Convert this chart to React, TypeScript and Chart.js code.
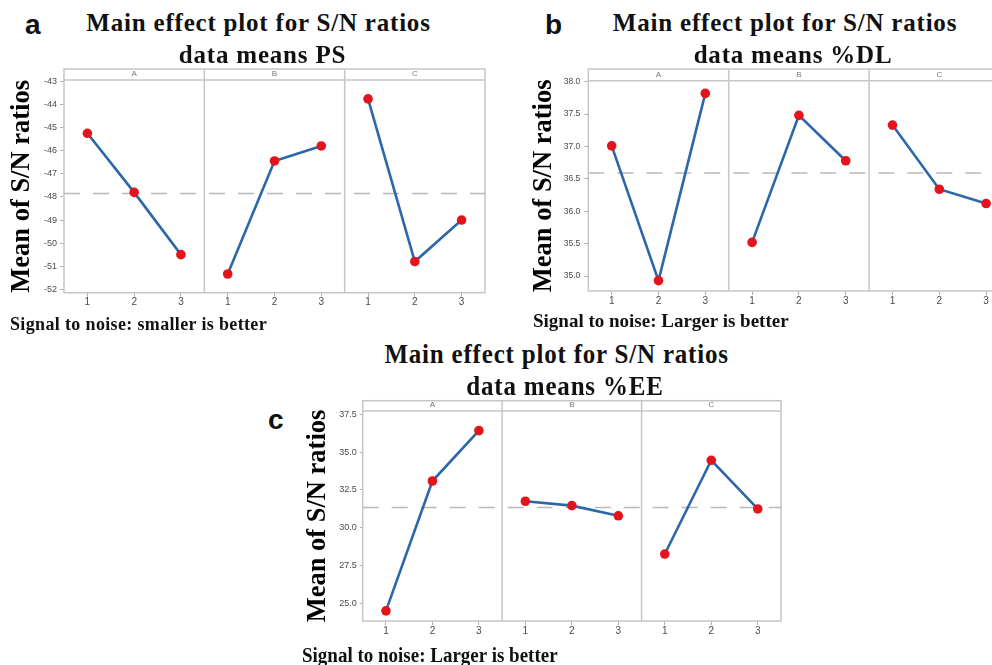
import React, { useEffect, useRef } from "react";
import { Chart, registerables } from "chart.js";

Chart.register(...registerables);

// ---------- data ----------
const FACTORS = ["A", "B", "C"];
const LEVELS = ["1", "2", "3"];
const Y_TITLE = "Mean of S/N ratios";

// (a) particle size, smaller is better
const PS_A = [-45.24, -47.8, -50.5];
const PS_B = [-51.34, -46.44, -45.79];
const PS_C = [-43.75, -50.8, -49.0];
const PS_TICKS = [-52, -51, -50, -49, -48, -47, -46, -45, -44, -43];

// (b) %DL, larger is better
const DL_A = [37.01, 34.93, 37.82];
const DL_B = [35.52, 37.48, 36.78];
const DL_C = [37.33, 36.34, 36.12];
const DL_TICKS = [35.0, 35.5, 36.0, 36.5, 37.0, 37.5, 38.0];

// (c) %EE, larger is better
const EE_A = [24.5, 33.09, 36.42];
const EE_B = [31.75, 31.46, 30.79];
const EE_C = [28.26, 34.46, 31.24];
const EE_TICKS = [25.0, 27.5, 30.0, 32.5, 35.0, 37.5];

type PanelCfg = {
  series: number[][];
  ticks: number[];
  decimals: number;
  yMin: number;
  yMax: number;
  left: number;
  top: number;
  width: number;
  height: number;
  padTop: number;
  padRight: number;
  yAxisWidth: number;
  xAxisHeight: number;
  stripHeight: number;
  titlePad: number;
  tickLen: number;
  tickPad: number;
  tickSize: number;
};

const LINE_COLOR = "#2c67aa";
const POINT_COLOR = "#e3141c";
const FRAME_COLOR = "#c6c6c6";

const framePlugin = {
  id: "minitabFrame",
  beforeDatasetsDraw(chart: any) {
    const { ctx, chartArea: ca, scales } = chart;
    const x = scales.x;
    const stripTop = scales.x2.top;
    ctx.save();
    ctx.strokeStyle = FRAME_COLOR;
    ctx.lineWidth = 1.5;
    ctx.strokeRect(ca.left, stripTop, ca.right - ca.left, ca.bottom - stripTop);
    ctx.beginPath();
    ctx.moveTo(ca.left, ca.top);
    ctx.lineTo(ca.right, ca.top);
    for (let k = 1; k < FACTORS.length; k++) {
      const px = x.getPixelForValue(k * LEVELS.length + 0.5);
      ctx.moveTo(px, stripTop);
      ctx.lineTo(px, ca.bottom);
    }
    ctx.stroke();
    ctx.restore();
  },
};

function PanelChart({ cfg }: { cfg: PanelCfg }) {
  const ref = useRef<HTMLCanvasElement | null>(null);
  useEffect(() => {
    if (!ref.current) return;
    const n = LEVELS.length;
    const xMax = FACTORS.length * n + 0.5;
    const all = cfg.series.flat();
    const mean = all.reduce((s, v) => s + v, 0) / all.length;
    const datasets: any[] = [
      {
        label: "mean",
        data: [
          { x: 0.5, y: mean },
          { x: xMax, y: mean },
        ],
        borderColor: "#b9b9b9",
        borderWidth: 1.5,
        borderDash: [16, 13],
        pointRadius: 0,
        order: 1,
      },
    ];
    cfg.series.forEach((vals, fi) => {
      datasets.push({
        label: FACTORS[fi],
        data: vals.map((v, li) => ({ x: fi * n + li + 1, y: v })),
        borderColor: LINE_COLOR,
        borderWidth: 2.6,
        pointRadius: 4.8,
        pointBackgroundColor: POINT_COLOR,
        pointBorderColor: POINT_COLOR,
        pointBorderWidth: 0,
        order: 0,
      });
    });
    const tickFont = { family: '"Liberation Sans", Arial, sans-serif', size: cfg.tickSize };
    const chart = new Chart(ref.current, {
      type: "line",
      data: { datasets },
      plugins: [framePlugin],
      options: {
        animation: false,
        responsive: false,
        devicePixelRatio: 1,
        layout: { padding: { top: cfg.padTop, right: cfg.padRight, left: 0, bottom: 0 } },
        plugins: { legend: { display: false }, tooltip: { enabled: false }, title: { display: false } },
        scales: {
          x: {
            type: "linear",
            min: 0.5,
            max: xMax,
            afterBuildTicks: (ax: any) => {
              const t: any[] = [];
              FACTORS.forEach((_, fi) => LEVELS.forEach((_l, li) => t.push({ value: fi * n + li + 1 })));
              ax.ticks = t;
            },
            afterFit: (ax: any) => {
              ax.height = cfg.xAxisHeight;
            },
            grid: { drawOnChartArea: false, drawTicks: true, tickLength: 4, tickColor: "#b0b0b0", color: "#b0b0b0" },
            border: { display: false },
            ticks: {
              autoSkip: false,
              maxRotation: 0,
              padding: 0,
              color: "#4a4a4a",
              font: { ...tickFont, size: 10 },
              callback: (v: any) => LEVELS[(Math.round(v) - 1) % n],
            },
          },
          x2: {
            type: "linear",
            position: "top",
            min: 0.5,
            max: xMax,
            afterBuildTicks: (ax: any) => {
              ax.ticks = FACTORS.map((_, fi) => ({ value: fi * n + (n + 1) / 2 }));
            },
            afterFit: (ax: any) => {
              ax.height = cfg.stripHeight;
            },
            grid: { display: false, drawTicks: false },
            border: { display: false },
            ticks: {
              autoSkip: false,
              maxRotation: 0,
              padding: 1,
              color: "#777",
              font: { ...tickFont, size: 8 },
              callback: (v: any) => FACTORS[Math.round((v - (n + 1) / 2) / n)],
            },
          },
          y: {
            type: "linear",
            min: cfg.yMin,
            max: cfg.yMax,
            afterBuildTicks: (ax: any) => {
              ax.ticks = cfg.ticks.map((v) => ({ value: v }));
            },
            afterFit: (ax: any) => {
              ax.width = cfg.yAxisWidth;
            },
            grid: { drawOnChartArea: false, drawTicks: true, tickLength: cfg.tickLen, tickColor: "#b0b0b0", color: "#b0b0b0" },
            border: { display: false },
            ticks: {
              padding: cfg.tickPad,
              color: "#4a4a4a",
              font: tickFont,
              callback: (v: any) => Number(v).toFixed(cfg.decimals),
            },
            title: {
              display: true,
              text: Y_TITLE,
              color: "#000",
              font: { family: '"Liberation Serif", "Times New Roman", serif', size: 26.5, weight: "bold", lineHeight: 1.2 },
              padding: { top: cfg.titlePad, bottom: 0 },
            },
          },
        },
      } as any,
    });
    return () => chart.destroy();
  }, [cfg]);
  return (
    <canvas
      ref={ref}
      width={cfg.width}
      height={cfg.height}
      style={{ position: "absolute", left: cfg.left, top: cfg.top, width: cfg.width, height: cfg.height }}
    />
  );
}

const PANEL_A: PanelCfg = {
  series: [PS_A, PS_B, PS_C],
  ticks: PS_TICKS,
  decimals: 0,
  yMin: -52.15,
  yMax: -42.93,
  left: 0,
  top: 60,
  width: 495,
  height: 255,
  padTop: 9,
  padRight: 10,
  yAxisWidth: 64,
  xAxisHeight: 22.3,
  stripHeight: 11,
  titlePad: 6.1,
  tickLen: 4,
  tickPad: 3,
  tickSize: 9,
};

const PANEL_B: PanelCfg = {
  series: [DL_A, DL_B, DL_C],
  ticks: DL_TICKS,
  decimals: 1,
  yMin: 34.77,
  yMax: 38.015,
  left: 510,
  top: 60,
  width: 510,
  height: 255,
  padTop: 9,
  padRight: 10.5,
  yAxisWidth: 78.3,
  xAxisHeight: 24,
  stripHeight: 11.7,
  titlePad: 18.1,
  tickLen: 4,
  tickPad: 4,
  tickSize: 8.5,
};

const PANEL_C: PanelCfg = {
  series: [EE_A, EE_B, EE_C],
  ticks: EE_TICKS,
  decimals: 1,
  yMin: 23.83,
  yMax: 37.72,
  left: 290,
  top: 390,
  width: 501,
  height: 255,
  padTop: 10.7,
  padRight: 10,
  yAxisWidth: 72.7,
  xAxisHeight: 24,
  stripHeight: 10.3,
  titlePad: 12.1,
  tickLen: 3,
  tickPad: 3,
  tickSize: 9,
};

type LabelProps = {
  x: number;
  base: number;
  size: number;
  serif?: boolean;
  center?: boolean;
  ls?: number;
  sy?: number;
  children: React.ReactNode;
};

function Label({ x, base, size, serif = true, center = false, ls = 0, sy = 1, children }: LabelProps) {
  const asc = serif ? 0.8375 : 0.8465;
  return (
    <div
      style={{
        position: "absolute",
        left: x,
        top: base - asc * size,
        fontFamily: serif ? '"Liberation Serif", "Times New Roman", serif' : '"Liberation Sans", Arial, sans-serif',
        fontWeight: "bold",
        fontSize: size,
        lineHeight: `${size}px`,
        letterSpacing: ls,
        whiteSpace: "nowrap",
        color: "#111",
        transform: `translateX(${center ? "-50%" : "0"}) scale(1, ${sy})`,
        transformOrigin: `${center ? "50%" : "0"} ${asc * size}px`,
      }}
    >
      {children}
    </div>
  );
}

export default function App() {
  return (
    <div
      style={{
        position: "fixed",
        left: 0,
        top: 0,
        width: 992,
        height: 665,
        overflow: "hidden",
        background: "#fff",
      }}
    >
      <PanelChart cfg={PANEL_A} />
      <PanelChart cfg={PANEL_B} />
      <PanelChart cfg={PANEL_C} />

      <Label x={25} base={35} size={28} serif={false}>a</Label>
      <Label x={545} base={35} size={28} serif={false}>b</Label>
      <Label x={268} base={430} size={28} serif={false}>c</Label>

      <Label x={258.5} base={30.7} size={25} ls={0.8} center>Main effect plot for S/N ratios</Label>
      <Label x={262.5} base={62.7} size={25} ls={0.8} center>data means PS</Label>

      <Label x={785} base={30.7} size={25} ls={0.8} center>Main effect plot for S/N ratios</Label>
      <Label x={793} base={62.7} size={25} ls={0.8} center>data means %DL</Label>

      <Label x={556.6} base={363.3} size={25} ls={0.8} sy={1.13} center>Main effect plot for S/N ratios</Label>
      <Label x={565} base={395} size={25} ls={0.8} sy={1.13} center>data means %EE</Label>

      <Label x={10} base={330} size={18} ls={0.35}>Signal to noise: smaller is better</Label>
      <Label x={533} base={326.7} size={19}>Signal to noise: Larger is better</Label>
      <Label x={302} base={661.5} size={19} sy={1.15}>Signal to noise: Larger is better</Label>
    </div>
  );
}
